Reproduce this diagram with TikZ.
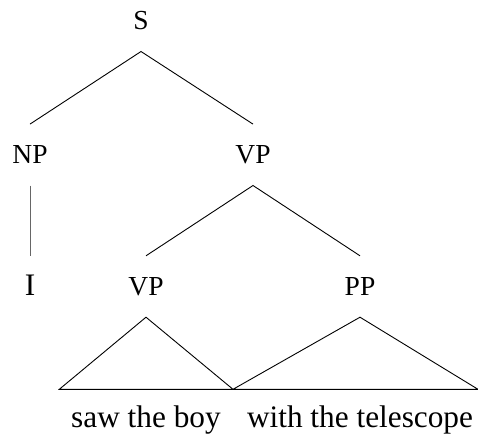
\documentclass[tikz,border=0pt]{standalone}
\usepackage{fontspec}
\setmainfont{Liberation Serif}
\begin{document}
\begin{tikzpicture}[x=1pt,y=-1pt,
  cat/.style={inner xsep=0pt,inner ysep=22pt,text height=17pt,text depth=0pt,
    anchor=base,font=\fontsize{27.5}{27.5}\selectfont},
  word/.style={inner sep=0pt,anchor=base,font=\fontsize{31.3}{31.3}\selectfont},
  branch/.style={line width=0.9pt,black},
  unary/.style={line width=1pt,black!60}]
\useasboundingbox (0,0) rectangle (478,434);

% categories
\node[cat] (S)   at (141,29.3)  {S};
\node[cat] (NP)  at (30,163.3)  {NP};
\node[cat] (VP)  at (253,163.3) {VP};
\node[cat,font=\fontsize{31.3}{31.3}\selectfont] (I) at (30,295) {I};
\node[cat] (VPa) at (146,295)   {VP};
\node[cat] (PP)  at (360,295)   {PP};

% triangle bases
\coordinate (bl) at (59.3,389.3);
\coordinate (bm) at (233,389.3);
\coordinate (br) at (478,389.3);

% words
\node[word] (w1) at (146,427) {saw the boy};
\node[word] (w2) at (360,427) {with the telescope};

% branches
\draw[branch] (NP.north) -- (S.south) -- (VP.north);
\draw[unary] (NP.south) -- (I.north);
\draw[branch] (VPa.north) -- (VP.south) -- (PP.north);
\draw[branch] (bl) -- (VPa.south) -- (bm) -- cycle;
\draw[branch] (bm) -- (PP.south) -- (br) -- cycle;
\end{tikzpicture}
\end{document}
